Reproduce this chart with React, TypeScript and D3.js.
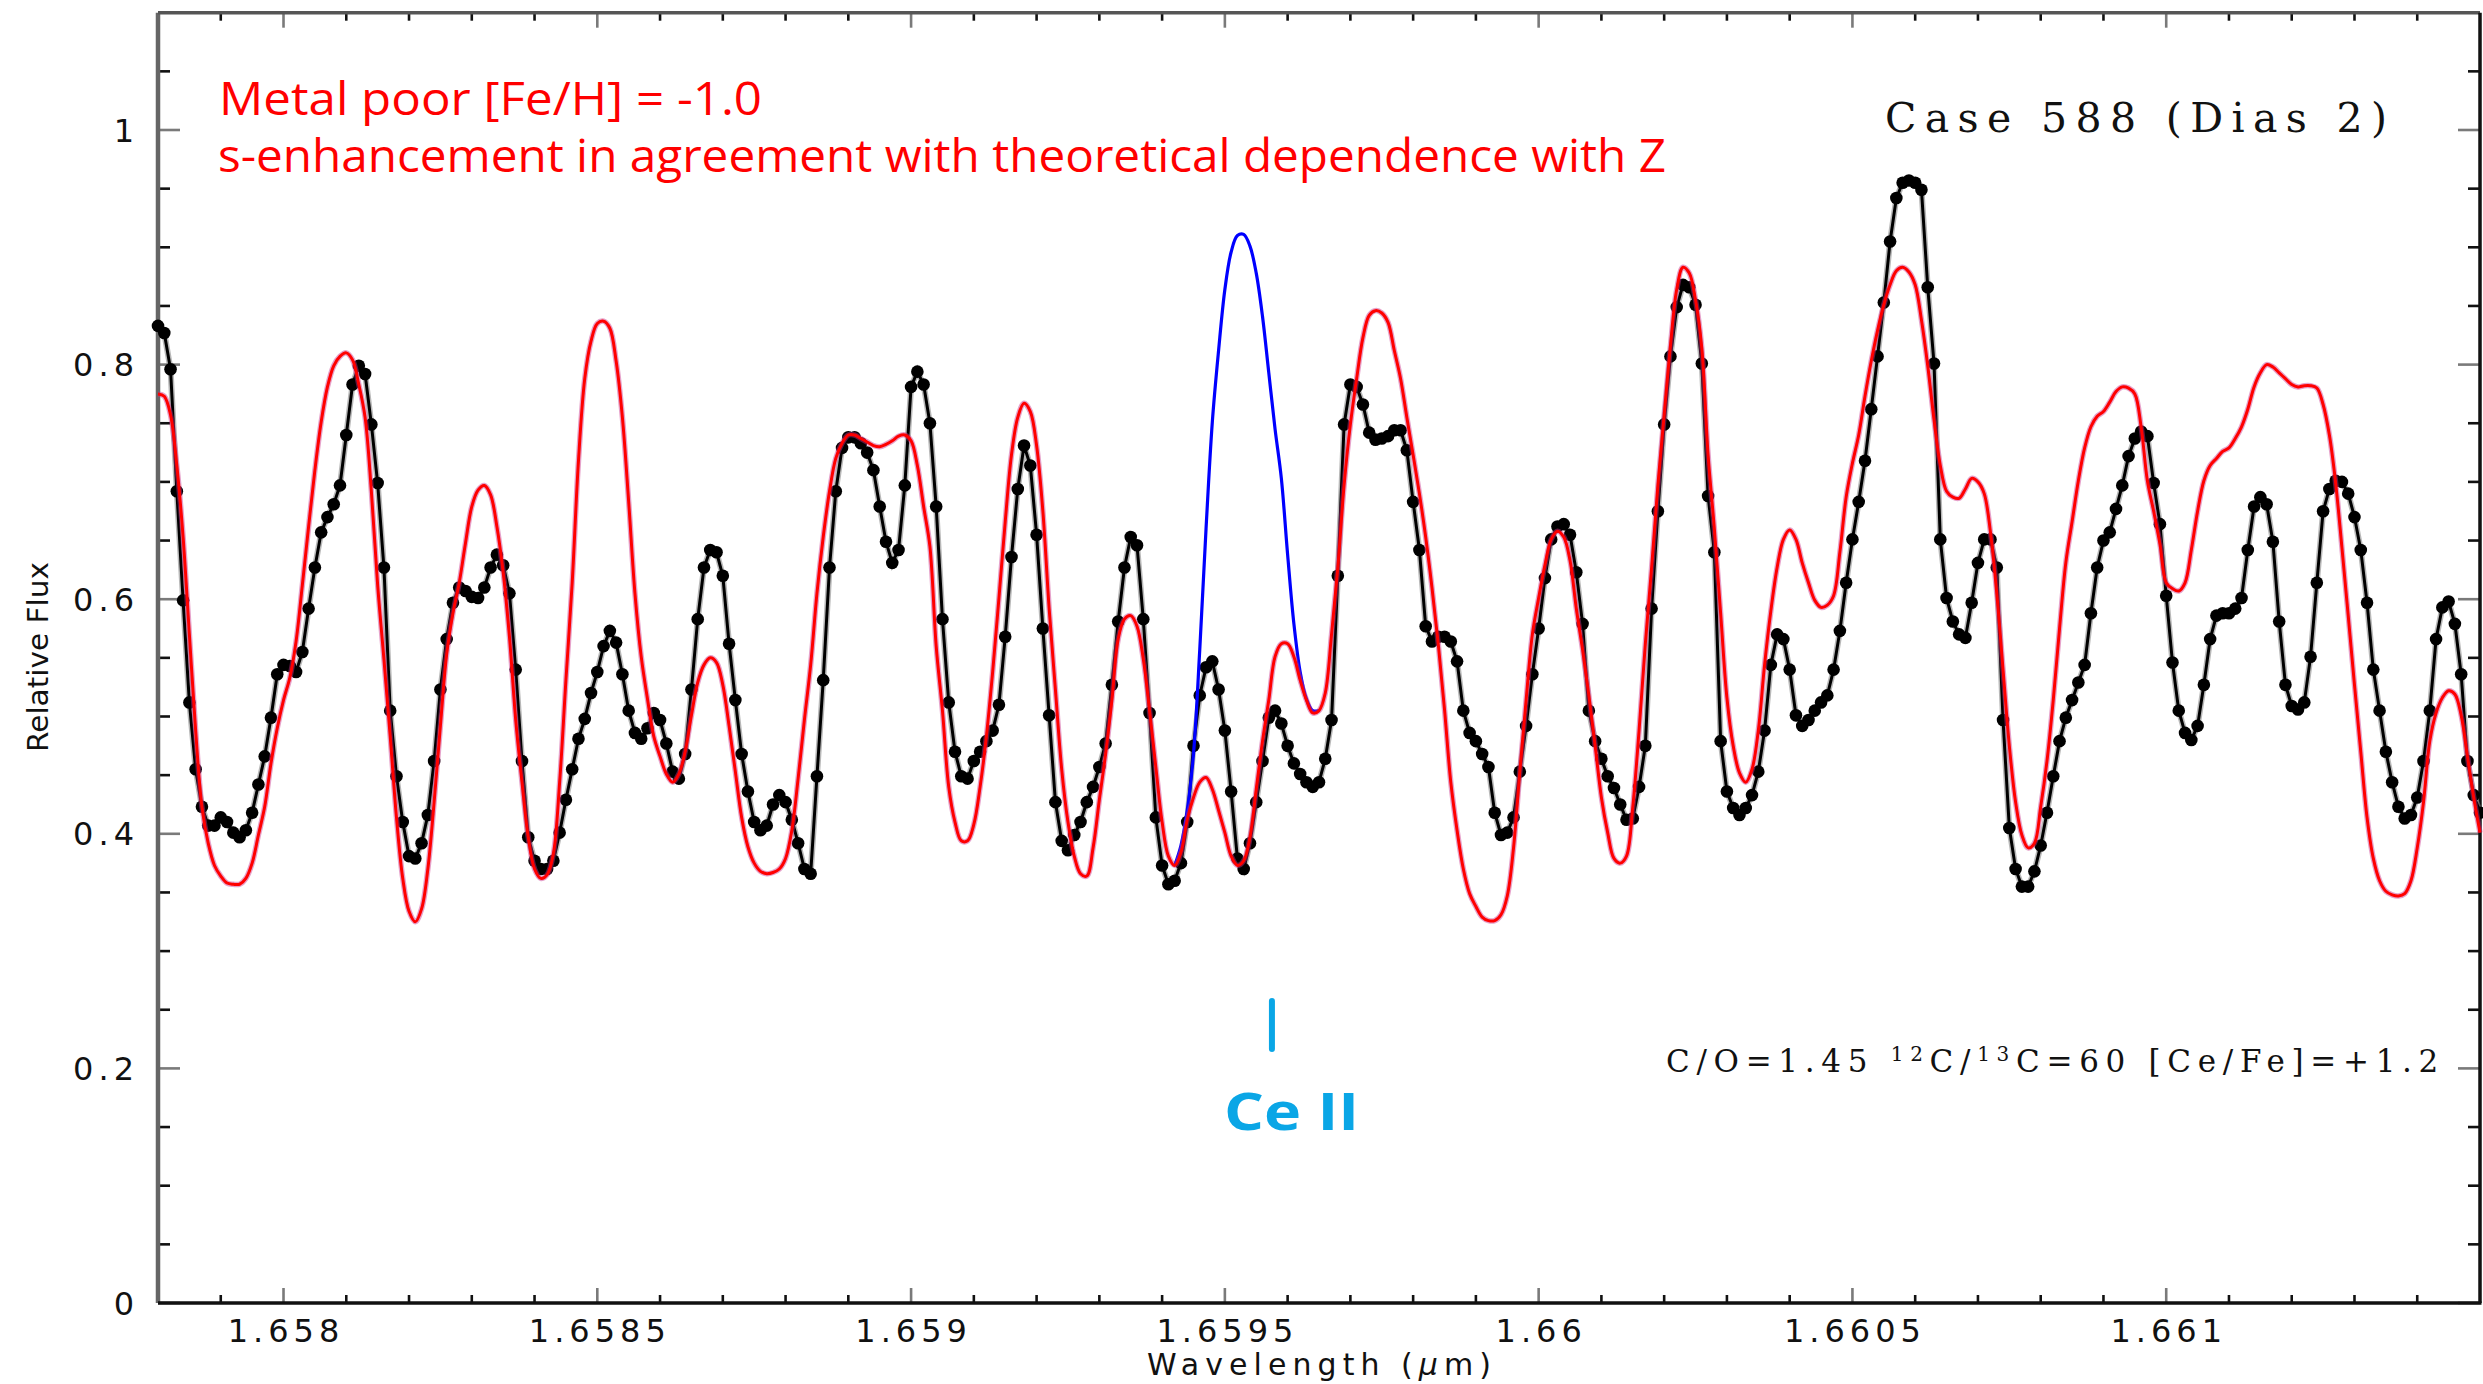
import React from 'react';
import * as d3 from 'd3';

const W = 2483;
const H = 1384;

// wavelength grid (micron) of the sampled spectra
const WL_START = 1.6578;
const WL_STEP = 0.00001;

// observed spectrum (black dots), relative flux
const OBS_FLUX = [
  0.833, 0.827, 0.796, 0.692, 0.599, 0.512, 0.455, 0.423, 0.407, 0.407,
  0.414, 0.410, 0.401, 0.397, 0.403, 0.418, 0.442, 0.466, 0.499, 0.536,
  0.544, 0.543, 0.538, 0.555, 0.592, 0.627, 0.657, 0.670, 0.681, 0.697,
  0.740, 0.783, 0.799, 0.792, 0.749, 0.699, 0.627, 0.505, 0.449, 0.410,
  0.381, 0.379, 0.392, 0.416, 0.462, 0.523, 0.566, 0.597, 0.610, 0.607,
  0.602, 0.601, 0.610, 0.627, 0.638, 0.629, 0.605, 0.540, 0.462, 0.397,
  0.377, 0.370, 0.370, 0.377, 0.401, 0.429, 0.455, 0.481, 0.498, 0.520,
  0.538, 0.560, 0.573, 0.563, 0.536, 0.505, 0.486, 0.481, 0.490, 0.503,
  0.497, 0.477, 0.453, 0.447, 0.468, 0.523, 0.583, 0.627, 0.642, 0.640,
  0.620, 0.562, 0.514, 0.468, 0.436, 0.410, 0.403, 0.407, 0.425, 0.433,
  0.427, 0.412, 0.392, 0.370, 0.366, 0.449, 0.531, 0.627, 0.692, 0.729,
  0.738, 0.738, 0.733, 0.725, 0.710, 0.679, 0.649, 0.631, 0.642, 0.697,
  0.781, 0.794, 0.783, 0.750, 0.679, 0.583, 0.512, 0.470, 0.449, 0.447,
  0.462, 0.470, 0.479, 0.488, 0.510, 0.568, 0.636, 0.694, 0.731, 0.714,
  0.655, 0.575, 0.501, 0.427, 0.394, 0.386, 0.399, 0.410, 0.427, 0.440,
  0.457, 0.477, 0.527, 0.581, 0.627, 0.653, 0.646, 0.583, 0.503, 0.414,
  0.373, 0.357, 0.360, 0.375, 0.410, 0.475, 0.518, 0.542, 0.547, 0.523,
  0.488, 0.436, 0.379, 0.370, 0.392, 0.427, 0.462, 0.499, 0.505, 0.494,
  0.475, 0.460, 0.451, 0.444, 0.440, 0.444, 0.464, 0.497, 0.620, 0.749,
  0.783, 0.781, 0.766, 0.742, 0.736, 0.737, 0.739, 0.744, 0.744, 0.727,
  0.683, 0.642, 0.577, 0.564, 0.568, 0.568, 0.564, 0.547, 0.505, 0.486,
  0.479, 0.468, 0.457, 0.418, 0.399, 0.401, 0.414, 0.453, 0.492, 0.536,
  0.575, 0.618, 0.651, 0.662, 0.664, 0.655, 0.623, 0.579, 0.505, 0.479,
  0.464, 0.449, 0.439, 0.425, 0.412, 0.413, 0.440, 0.475, 0.592, 0.675,
  0.749, 0.807, 0.849, 0.868, 0.866, 0.851, 0.801, 0.688, 0.640, 0.479,
  0.436, 0.422, 0.416, 0.422, 0.433, 0.453, 0.488, 0.544, 0.570, 0.566,
  0.540, 0.501, 0.492, 0.497, 0.505, 0.512, 0.518, 0.540, 0.573, 0.614,
  0.651, 0.683, 0.718, 0.762, 0.807, 0.853, 0.905, 0.942, 0.955, 0.957,
  0.955, 0.949, 0.866, 0.801, 0.651, 0.601, 0.581, 0.570, 0.567, 0.597,
  0.631, 0.651, 0.651, 0.627, 0.497, 0.405, 0.370, 0.355, 0.355, 0.368,
  0.390, 0.418, 0.449, 0.479, 0.499, 0.514, 0.529, 0.544, 0.588, 0.627,
  0.650, 0.657, 0.677, 0.697, 0.722, 0.737, 0.743, 0.739, 0.699, 0.664,
  0.603, 0.546, 0.505, 0.486, 0.480, 0.492, 0.527, 0.566, 0.586, 0.588,
  0.588, 0.592, 0.601, 0.642, 0.679, 0.687, 0.681, 0.649, 0.581, 0.527,
  0.509, 0.506, 0.512, 0.551, 0.614, 0.675, 0.694, 0.701, 0.700, 0.690,
  0.670, 0.642, 0.597, 0.540, 0.505, 0.470, 0.444, 0.423, 0.413, 0.416,
  0.431, 0.462, 0.505, 0.566, 0.593, 0.598, 0.579, 0.536, 0.462, 0.433,
  0.418,
];

// synthetic spectrum, [Ce/Fe]=+1.2 (red)
const SYN_FLUX = [
  0.775, 0.773, 0.757, 0.714, 0.653, 0.570, 0.488, 0.423, 0.392, 0.373,
  0.364, 0.358, 0.357, 0.357, 0.362, 0.375, 0.399, 0.423, 0.460, 0.490,
  0.514, 0.533, 0.564, 0.612, 0.662, 0.710, 0.751, 0.781, 0.799, 0.807,
  0.810, 0.804, 0.783, 0.755, 0.692, 0.612, 0.549, 0.483, 0.414, 0.362,
  0.334, 0.325, 0.336, 0.370, 0.427, 0.492, 0.553, 0.588, 0.614, 0.648,
  0.679, 0.693, 0.697, 0.689, 0.662, 0.623, 0.568, 0.497, 0.444, 0.397,
  0.370, 0.362, 0.365, 0.383, 0.444, 0.531, 0.614, 0.718, 0.788, 0.820,
  0.835, 0.837, 0.831, 0.803, 0.755, 0.683, 0.605, 0.551, 0.515, 0.483,
  0.466, 0.451, 0.444, 0.451, 0.470, 0.501, 0.529, 0.544, 0.550, 0.546,
  0.527, 0.492, 0.453, 0.414, 0.389, 0.375, 0.368, 0.366, 0.367, 0.370,
  0.379, 0.403, 0.447, 0.497, 0.544, 0.605, 0.653, 0.692, 0.720, 0.733,
  0.740, 0.740, 0.737, 0.734, 0.731, 0.730, 0.732, 0.735, 0.739, 0.740,
  0.735, 0.714, 0.679, 0.645, 0.560, 0.505, 0.440, 0.410, 0.394, 0.394,
  0.408, 0.440, 0.483, 0.538, 0.601, 0.666, 0.723, 0.755, 0.767, 0.760,
  0.731, 0.675, 0.592, 0.523, 0.455, 0.410, 0.381, 0.366, 0.364, 0.388,
  0.429, 0.468, 0.514, 0.566, 0.583, 0.586, 0.577, 0.549, 0.505, 0.457,
  0.410, 0.381, 0.373, 0.384, 0.412, 0.431, 0.444, 0.448, 0.438, 0.420,
  0.401, 0.381, 0.373, 0.377, 0.397, 0.438, 0.479, 0.514, 0.551, 0.562,
  0.562, 0.551, 0.531, 0.514, 0.503, 0.505, 0.520, 0.570, 0.627, 0.697,
  0.749, 0.788, 0.823, 0.842, 0.846, 0.844, 0.836, 0.812, 0.788, 0.755,
  0.723, 0.690, 0.653, 0.610, 0.562, 0.506, 0.444, 0.403, 0.370, 0.349,
  0.338, 0.329, 0.326, 0.326, 0.331, 0.347, 0.388, 0.453, 0.514, 0.570,
  0.601, 0.629, 0.651, 0.658, 0.653, 0.633, 0.592, 0.557, 0.518, 0.475,
  0.431, 0.401, 0.379, 0.375, 0.381, 0.423, 0.488, 0.562, 0.627, 0.697,
  0.757, 0.816, 0.864, 0.883, 0.878, 0.855, 0.814, 0.723, 0.660, 0.588,
  0.516, 0.475, 0.452, 0.444, 0.455, 0.488, 0.544, 0.590, 0.627, 0.651,
  0.659, 0.651, 0.631, 0.614, 0.599, 0.593, 0.595, 0.603, 0.640, 0.687,
  0.716, 0.740, 0.773, 0.803, 0.829, 0.851, 0.868, 0.880, 0.883, 0.879,
  0.868, 0.838, 0.799, 0.753, 0.714, 0.692, 0.687, 0.686, 0.694, 0.703,
  0.700, 0.690, 0.657, 0.605, 0.540, 0.475, 0.427, 0.399, 0.388, 0.392,
  0.423, 0.462, 0.514, 0.575, 0.631, 0.666, 0.701, 0.729, 0.747, 0.756,
  0.760, 0.768, 0.777, 0.781, 0.780, 0.775, 0.747, 0.701, 0.675, 0.647,
  0.614, 0.609, 0.607, 0.614, 0.642, 0.675, 0.701, 0.714, 0.720, 0.726,
  0.729, 0.737, 0.747, 0.762, 0.781, 0.793, 0.800, 0.798, 0.793, 0.788,
  0.783, 0.781, 0.782, 0.782, 0.780, 0.766, 0.740, 0.699, 0.644, 0.586,
  0.527, 0.470, 0.414, 0.379, 0.360, 0.351, 0.348, 0.347, 0.349, 0.360,
  0.388, 0.427, 0.479, 0.503, 0.516, 0.522, 0.519, 0.501, 0.466, 0.431,
  0.401,
];

// synthetic spectrum without Ce enhancement (blue), only where it differs
const CE_START_INDEX = 162;
const CE_FREE_FLUX = [
  0.373, 0.390, 0.420, 0.468, 0.557, 0.660, 0.751, 0.812, 0.864, 0.896,
  0.910, 0.911, 0.901, 0.878, 0.841, 0.793, 0.745, 0.703, 0.638, 0.579,
  0.538, 0.515, 0.505, 0.505,
];

const X_TICKS = [1.658, 1.6585, 1.659, 1.6595, 1.66, 1.6605, 1.661];
const X_TICK_LABELS = ['1.658', '1.6585', '1.659', '1.6595', '1.66', '1.6605', '1.661'];
const Y_TICKS = [0, 0.2, 0.4, 0.6, 0.8, 1];
const Y_TICK_LABELS = ['0', '0.2', '0.4', '0.6', '0.8', '1'];

const X_DOMAIN = [1.6578, 1.6615];
const Y_DOMAIN = [0, 1.1];

const TITLE_LINES = [
  'Metal poor [Fe/H] = -1.0',
  's-enhancement in agreement with theoretical dependence with Z',
];
const CASE_LABEL = 'Case 588 (Dias 2)';
const CE_LINE_WL = 1.659575;

export default function App() {
  const left = 158, right = 2480, top = 12.7, bottom = 1303;
  const x = d3.scaleLinear().domain(X_DOMAIN).range([left, right]);
  const y = d3.scaleLinear().domain(Y_DOMAIN).range([bottom, top]);

  const obs = OBS_FLUX.map((v, i) => [WL_START + i * WL_STEP, v] as [number, number]);
  const syn = SYN_FLUX.map((v, i) => [WL_START + i * WL_STEP, v] as [number, number]);
  const ceFree = CE_FREE_FLUX.map((v, i) => [WL_START + (CE_START_INDEX + i) * WL_STEP, v] as [number, number]);

  const lineLin = d3.line<[number, number]>().x(d => x(d[0])).y(d => y(d[1]));
  const lineSmooth = d3.line<[number, number]>().x(d => x(d[0])).y(d => y(d[1])).curve(d3.curveCatmullRom.alpha(0.5));

  // minor ticks
  const xMinor = d3.range(1, 37).map(k => X_DOMAIN[0] + k * 0.0001)
    .filter(v => !X_TICKS.some(t => Math.abs(t - v) < 1e-7));
  const yMinor = d3.range(1, 22).map(k => k * 0.05)
    .filter(v => !Y_TICKS.some(t => Math.abs(t - v) < 1e-7));

  const majorCol = '#7a7a7a';
  const minorCol = '#111';
  const tickW = 2.6;
  const xMajLen = 15, xMinLen = 8, yMajLen = 22, yMinLen = 12;

  const ceX = x(CE_LINE_WL);

  return (
    <svg width={W} height={H} style={{ position: 'absolute', left: 0, top: 0, background: '#fff' }}>
      <rect x={0} y={0} width={W} height={H} fill="#fff" />

      {/* ticks */}
      <g>
        {X_TICKS.map((t, i) => (
          <g key={'xt' + i} stroke={majorCol} strokeWidth={tickW}>
            <line x1={x(t)} x2={x(t)} y1={bottom} y2={bottom - xMajLen} />
            <line x1={x(t)} x2={x(t)} y1={top} y2={top + xMajLen} />
          </g>
        ))}
        {xMinor.map((t, i) => (
          <g key={'xm' + i} stroke={minorCol} strokeWidth={tickW}>
            <line x1={x(t)} x2={x(t)} y1={bottom} y2={bottom - xMinLen} />
            <line x1={x(t)} x2={x(t)} y1={top} y2={top + xMinLen} />
          </g>
        ))}
        {Y_TICKS.map((t, i) => (
          <g key={'yt' + i} stroke={majorCol} strokeWidth={tickW}>
            <line x1={left} x2={left + yMajLen} y1={y(t)} y2={y(t)} />
            <line x1={right} x2={right - yMajLen} y1={y(t)} y2={y(t)} />
          </g>
        ))}
        {yMinor.map((t, i) => (
          <g key={'ym' + i} stroke={minorCol} strokeWidth={tickW}>
            <line x1={left} x2={left + yMinLen} y1={y(t)} y2={y(t)} />
            <line x1={right} x2={right - yMinLen} y1={y(t)} y2={y(t)} />
          </g>
        ))}
      </g>

      {/* frame */}
      <line x1={left} x2={left} y1={top} y2={bottom} stroke="#666" strokeWidth={4.5} />
      <line x1={left} x2={right} y1={top} y2={top} stroke="#555" strokeWidth={3.5} />
      <line x1={left} x2={right + 1.5} y1={bottom} y2={bottom} stroke="#111" strokeWidth={3.5} />
      <line x1={right} x2={right} y1={top} y2={bottom} stroke="#111" strokeWidth={3.5} />

      {/* tick labels */}
      <g fontFamily="'DejaVu Sans', sans-serif" fontSize={32} fill="#111" letterSpacing={5}>
        {X_TICKS.map((t, i) => (
          <text key={'xl' + i} x={x(t) + 2.5} y={1342} textAnchor="middle">{X_TICK_LABELS[i]}</text>
        ))}
        {Y_TICKS.map((t, i) => (
          <text key={'yl' + i} x={139} y={y(t) + 11.5} textAnchor="end">{Y_TICK_LABELS[i]}</text>
        ))}
      </g>

      {/* axis titles */}
      <text x={1147} y={1375} fontFamily="'DejaVu Sans', sans-serif" fontSize={30} fill="#111"
        textLength={344} lengthAdjust="spacing">Wavelength (<tspan fontStyle="italic">μ</tspan>m)</text>
      <text transform="translate(48,752) rotate(-90)" fontFamily="'DejaVu Sans', sans-serif" fontSize={29} fill="#111"
        textLength={190} lengthAdjust="spacingAndGlyphs">Relative Flux</text>

      {/* observed spectrum */}
      <path d={lineLin(obs) || ''} fill="none" stroke="#888" strokeWidth={6} opacity={0.6} />
      <path d={lineLin(obs) || ''} fill="none" stroke="#000" strokeWidth={3} />
      <g fill="#000">
        {obs.map((d, i) => (
          <circle key={'o' + i} cx={x(d[0])} cy={y(d[1])} r={6.3} />
        ))}
      </g>

      {/* synthetic without Ce (blue) */}
      <path d={lineSmooth(ceFree) || ''} fill="none" stroke="#0000ff" strokeWidth={3.2} />

      {/* synthetic (red) */}
      <path d={lineSmooth(syn) || ''} fill="none" stroke="#c8308a" strokeWidth={5.5} opacity={0.45} />
      <path d={lineSmooth(syn) || ''} fill="none" stroke="#ff0000" strokeWidth={3} />

      {/* annotations */}
      <g fontFamily="'Comic Sans MS', 'Open Sans', sans-serif" fill="#ff0000" fontSize={46}>
        <text x={219} y={115} textLength={543} lengthAdjust="spacingAndGlyphs">{TITLE_LINES[0]}</text>
        <text x={218} y={172} textLength={1448} lengthAdjust="spacingAndGlyphs">{TITLE_LINES[1]}</text>
      </g>

      <text x={1885} y={132} fontFamily="'DejaVu Serif', serif" fontSize={41} fill="#111"
        textLength={502} lengthAdjust="spacing">{CASE_LABEL}</text>

      <text x={1666} y={1072} fontFamily="'DejaVu Serif', serif" fontSize={31} fill="#111" letterSpacing={6.7}>
        <tspan>C/O=1.45 </tspan>
        <tspan fontSize={20} dy={-11}>12</tspan>
        <tspan dy={11}>C/</tspan>
        <tspan fontSize={20} dy={-11}>13</tspan>
        <tspan dy={11}>C=60 [Ce/Fe]=+1.2</tspan>
      </text>

      {/* Ce II marker */}
      <line x1={ceX} x2={ceX} y1={1001} y2={1049} stroke="#0aa6e6" strokeWidth={6} strokeLinecap="round" />
      <text x={1224} y={1130} fontFamily="'Comic Sans MS', 'Open Sans', sans-serif" fontWeight="bold" fontSize={52}
        fill="#0aa6e6" textLength={135} lengthAdjust="spacingAndGlyphs">Ce II</text>
    </svg>
  );
}
